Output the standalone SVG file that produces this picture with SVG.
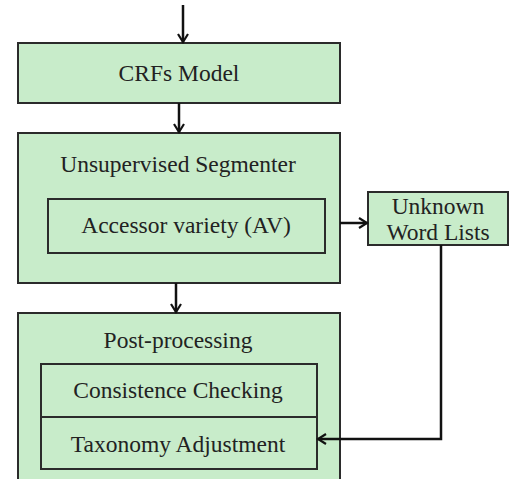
<svg xmlns="http://www.w3.org/2000/svg" width="509" height="479" viewBox="0 0 509 479">
  <style>
    .box { fill: #c8ecca; stroke: #2b2b2b; stroke-width: 2; }
    .inner { fill: #c8ecca; stroke: #2b2b2b; stroke-width: 2; }
    .lbl { font-family: "Liberation Serif", "Times New Roman", serif; font-size: 23.5px; fill: #222; text-anchor: middle; }
    .wire { fill: none; stroke: #111; stroke-width: 2.5; marker-end: url(#arrow); }
  </style>
  <defs>
    <marker id="arrow" viewBox="0 0 12 12" refX="10" refY="6" markerWidth="12" markerHeight="12" markerUnits="userSpaceOnUse" orient="auto">
      <path d="M2,1 L10,6 L2,11" fill="none" stroke="#111" stroke-width="2.2"/>
    </marker>
  </defs>

  <g id="crfs-model">
    <rect class="box" x="18" y="43" width="322" height="60"/>
    <text class="lbl" x="179" y="81">CRFs Model</text>
  </g>

  <g id="unsupervised-segmenter">
    <rect class="box" x="18" y="133" width="322" height="150"/>
    <text class="lbl" x="178" y="172">Unsupervised Segmenter</text>
    <g id="accessor-variety">
      <rect class="inner" x="48" y="199" width="277" height="54"/>
      <text class="lbl" x="186" y="233">Accessor variety (AV)</text>
    </g>
  </g>

  <g id="unknown-word-lists">
    <rect class="box" x="368" y="192" width="140" height="53"/>
    <text class="lbl" x="438" y="214">Unknown</text>
    <text class="lbl" x="438" y="240">Word Lists</text>
  </g>

  <g id="post-processing">
    <rect class="box" x="18" y="313" width="322" height="180"/>
    <text class="lbl" x="178" y="348">Post-processing</text>
    <g id="consistence-checking">
      <rect class="inner" x="41" y="364" width="276" height="53"/>
      <text class="lbl" x="178" y="398">Consistence Checking</text>
    </g>
    <g id="taxonomy-adjustment">
      <rect class="inner" x="41" y="417" width="276" height="52"/>
      <text class="lbl" x="178" y="452">Taxonomy Adjustment</text>
    </g>
  </g>

  <g id="connectors">
    <path class="wire" d="M183,5 V42"/>
    <path class="wire" d="M179,103 V132"/>
    <path class="wire" d="M340,223 H367"/>
    <path class="wire" d="M176,283 V312"/>
    <path class="wire" d="M441,245 V439 H318"/>
  </g>
</svg>
